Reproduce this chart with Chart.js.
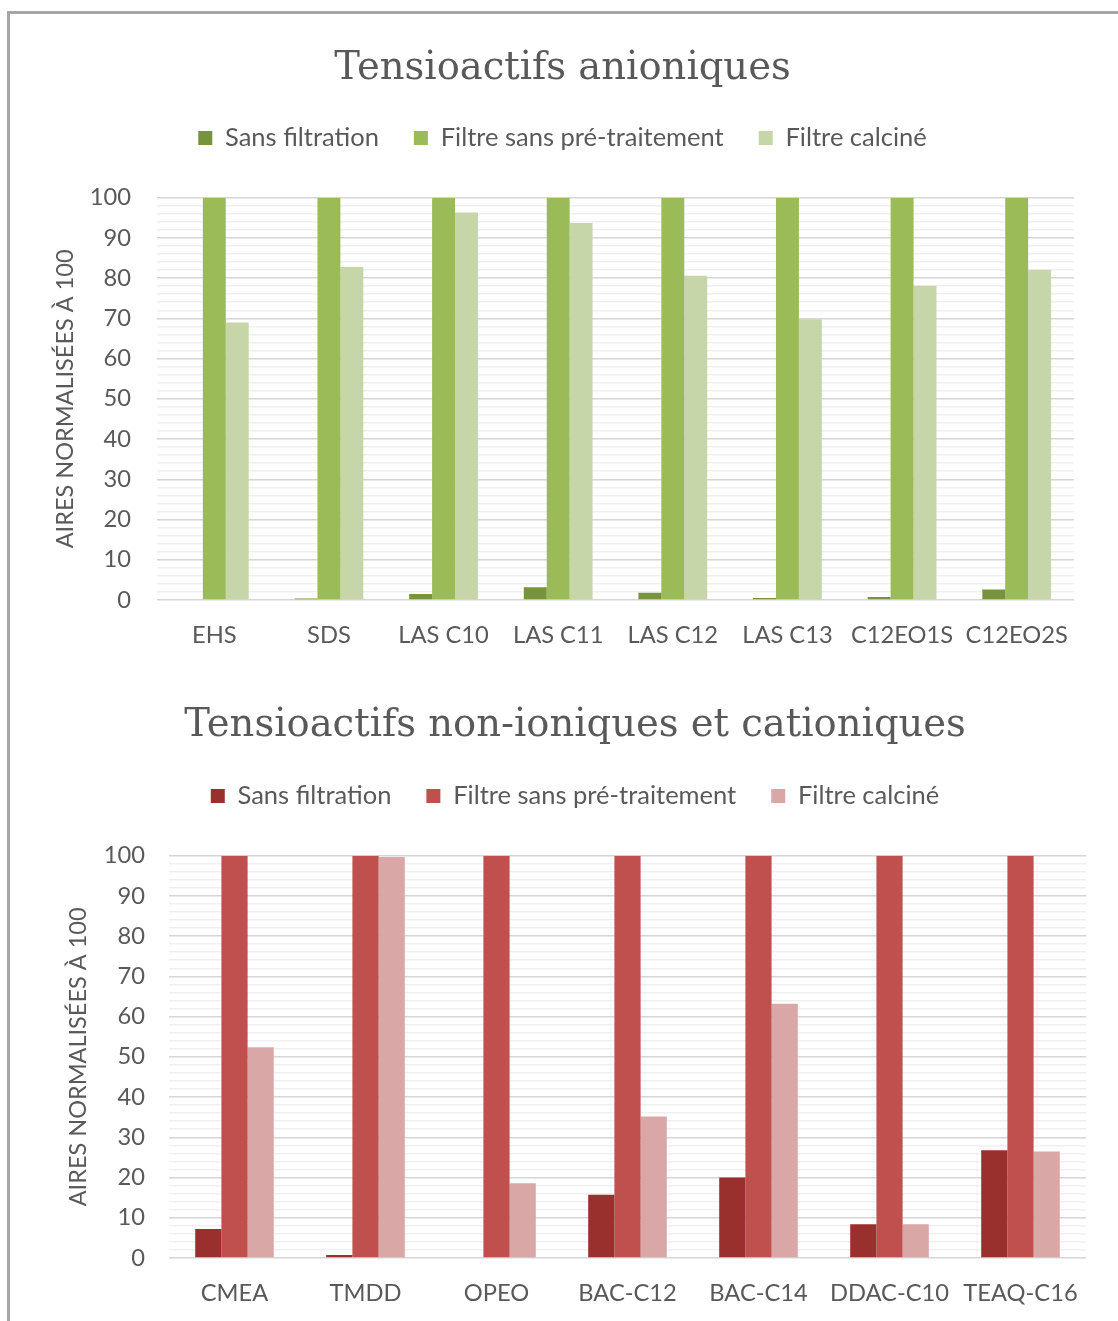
<!DOCTYPE html>
<html lang="fr">
<head>
  <meta charset="UTF-8">
  <title>Tensioactifs</title>
  <script src="https://cdn.jsdelivr.net/npm/chart.js"></script>
  <style>
    body { margin: 0; background: #fff; width: 1118px; height: 1321px; overflow: hidden; position: relative; }
    #frame { position: absolute; left: 7px; top: 11px; width: 1300px; height: 1400px;
             border-left: 3px solid #a6a6a6; border-top: 3px solid #a6a6a6; }
    .box { position: absolute; left: 0; width: 1118px; }
    canvas { display: block; }
  </style>
</head>
<body>
  <div id="frame"></div>
  <div class="box" style="top:0"><canvas id="anionChart" width="1118" height="660"></canvas></div>
  <div class="box" style="top:660px"><canvas id="cationChart" width="1118" height="661"></canvas></div>

  <script>
    // data
    const seriesNames = ['Sans filtration', 'Filtre sans pré-traitement', 'Filtre calciné'];

    const anionCategories = ['EHS', 'SDS', 'LAS C10', 'LAS C11', 'LAS C12', 'LAS C13', 'C12EO1S', 'C12EO2S'];
    const anionSansFiltration = [0, 0.4, 1.5, 3.2, 1.8, 0.5, 0.75, 2.6];
    const anionFiltreSans = [100, 100, 100, 100, 100, 100, 100, 100];
    const anionCalcine = [69.0, 82.8, 96.3, 93.7, 80.6, 69.8, 78.1, 82.1];

    const cationCategories = ['CMEA', 'TMDD', 'OPEO', 'BAC-C12', 'BAC-C14', 'DDAC-C10', 'TEAQ-C16'];
    const cationSansFiltration = [7.2, 0.75, 0, 15.7, 20.0, 8.4, 26.8];
    const cationFiltreSans = [100, 100, 100, 100, 100, 100, 100];
    const cationCalcine = [52.4, 99.7, 18.6, 35.2, 63.2, 8.4, 26.5];

    const yMin = 0, yMax = 100, yMajorStep = 10, yMinorStep = 2;
    const yTitle = 'AIRES NORMALISÉES À 100';

    const greens = ['#77933c', '#9bbb59', '#c6d6a9'];
    const reds = ['#9a302e', '#c0504d', '#d8a7a6'];

    const textColor = '#595959';
    const sansFont = 'Lato, "Open Sans", sans-serif';

    function makeChart(id, opts) {
      const datasets = opts.series.map((vals, i) => ({
        label: seriesNames[i],
        data: vals,
        backgroundColor: opts.colors[i],
        borderWidth: 0,
        categoryPercentage: 0.6,
        barPercentage: 1.0
      }));

      return new Chart(document.getElementById(id), {
        type: 'bar',
        data: { labels: opts.categories, datasets: datasets },
        options: {
          responsive: false,
          animation: false,
          layout: { padding: { left: opts.padLeft, right: opts.padRight, top: 0, bottom: 0 } },
          plugins: {
            tooltip: { enabled: false },
            title: {
              display: true,
              text: opts.title,
              color: textColor,
              font: { family: '"DejaVu Serif", serif', size: 38.5, weight: 'normal' },
              padding: { top: opts.titleTop, bottom: opts.titleBottom }
            },
            subtitle: {
              // empty spacer between legend and plot
              display: true,
              text: '',
              weight: 100,
              font: { size: 10 },
              padding: { top: opts.gap, bottom: 0 }
            },
            legend: {
              position: 'top',
              labels: {
                color: textColor,
                font: { family: sansFont, size: 25.5 },
                boxWidth: 14,
                boxHeight: 14,
                padding: 35
              }
            }
          },
          scales: {
            x: {
              grid: { display: false },
              border: { display: false },
              ticks: {
                color: textColor,
                font: { family: sansFont, size: 23.7 },
                padding: 13,
                maxRotation: 0,
                autoSkip: false
              },
              afterFit: s => { s.height = opts.xHeight; }
            },
            y: {
              min: yMin,
              max: yMax,
              border: { display: false },
              grid: {
                drawTicks: false,
                color: c => (c.tick.value % yMajorStep === 0 ? '#d6d6d6' : '#f0f0f0'),
                lineWidth: 1.6
              },
              ticks: {
                stepSize: yMinorStep,
                autoSkip: false,
                color: textColor,
                font: { family: sansFont, size: 23.7 },
                padding: opts.tickPad,
                callback: v => (v % yMajorStep === 0 ? v : '')
              },
              title: {
                display: true,
                text: yTitle,
                color: textColor,
                font: { family: sansFont, size: 23.5 },
                padding: 0
              },
              afterFit: s => { s.width = opts.yWidth; }
            }
          }
        }
      });
    }

    makeChart('anionChart', {
      title: 'Tensioactifs anioniques',
      categories: anionCategories,
      series: [anionSansFiltration, anionFiltreSans, anionCalcine],
      colors: greens,
      padLeft: 51, padRight: 44,
      yWidth: 106, xHeight: 60, tickPad: 26,
      titleTop: 46, titleBottom: -2, gap: 25
    });

    makeChart('cationChart', {
      title: 'Tensioactifs non-ioniques et cationiques',
      categories: cationCategories,
      series: [cationSansFiltration, cationFiltreSans, cationCalcine],
      colors: reds,
      padLeft: 64, padRight: 32,
      yWidth: 105, xHeight: 63, tickPad: 24,
      titleTop: 43, titleBottom: -1, gap: 25
    });
  </script>
</body>
</html>
